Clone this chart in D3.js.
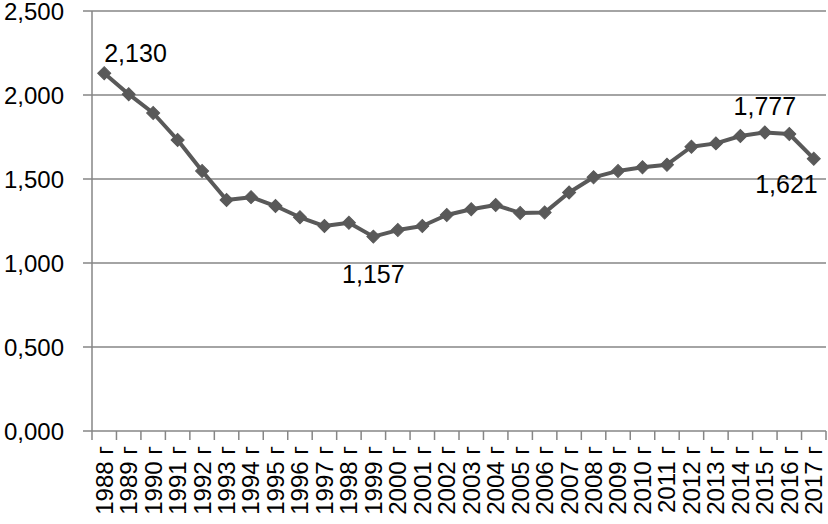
<!DOCTYPE html>
<html>
<head>
<meta charset="utf-8">
<script src="https://cdn.jsdelivr.net/npm/d3@7"></script>
<style>
  body { margin: 0; background: #fff; }
  text { font-family: "Liberation Sans", Arial, sans-serif; fill: #000; }
</style>
</head>
<body>
<script>
// data
var years = ["1988","1989","1990","1991","1992","1993","1994","1995","1996","1997",
             "1998","1999","2000","2001","2002","2003","2004","2005","2006","2007",
             "2008","2009","2010","2011","2012","2013","2014","2015","2016","2017"];
var values = [2.130, 2.005, 1.893, 1.732, 1.548, 1.375, 1.392, 1.339, 1.272, 1.220,
              1.240, 1.157, 1.196, 1.220, 1.286, 1.320, 1.345, 1.298, 1.300, 1.420,
              1.510, 1.548, 1.570, 1.585, 1.692, 1.712, 1.756, 1.777, 1.768, 1.621];
var yTicks = [0, 0.5, 1, 1.5, 2, 2.5];

// which points get a value label, and where it sits
var labels = [
  {i: 0,  dx: 0,  dy: -11, anchor: "start"},
  {i: 11, dx: 0,  dy: 46,  anchor: "middle"},
  {i: 27, dx: 0,  dy: -17, anchor: "middle"},
  {i: 29, dx: 4,  dy: 34,  anchor: "end"}
];

var width = 828, height = 524;
var margin = {top: 11, right: 2, bottom: 93, left: 92};

var locale = d3.formatLocale({decimal: ",", thousands: ".", grouping: [3], currency: ["", ""]});
var fmt = locale.format(".3f");

var svg = d3.select("body").append("svg")
    .attr("width", width)
    .attr("height", height);

var x = d3.scaleBand()
    .domain(years)
    .range([margin.left, width - margin.right]);

var y = d3.scaleLinear()
    .domain([0, 2.5])
    .range([height - margin.bottom, margin.top]);

var grey = "#868686";

// gridlines + left ticks
svg.append("g")
    .selectAll("line")
    .data(yTicks)
    .enter().append("line")
    .attr("x1", margin.left - 9)
    .attr("x2", width - margin.right)
    .attr("y1", function(d) { return y(d); })
    .attr("y2", function(d) { return y(d); })
    .attr("stroke", grey)
    .attr("stroke-width", 1.5);

// y tick labels
svg.append("g")
    .selectAll("text")
    .data(yTicks)
    .enter().append("text")
    .attr("x", 64)
    .attr("y", function(d) { return y(d); })
    .attr("dy", "0.36em")
    .attr("text-anchor", "end")
    .style("font-size", "24px")
    .text(function(d) { return fmt(d); });

// vertical axis line
svg.append("line")
    .attr("x1", margin.left).attr("x2", margin.left)
    .attr("y1", y(2.5)).attr("y2", y(0))
    .attr("stroke", grey).attr("stroke-width", 1.5);

// x ticks at band edges
var edges = years.map(function(d) { return x(d); }).concat([x(years[years.length - 1]) + x.bandwidth()]);
svg.append("g")
    .selectAll("line")
    .data(edges)
    .enter().append("line")
    .attr("x1", function(d) { return d; })
    .attr("x2", function(d) { return d; })
    .attr("y1", y(0))
    .attr("y2", y(0) + 9)
    .attr("stroke", grey)
    .attr("stroke-width", 1.5);

// x labels, rotated
svg.append("g")
    .selectAll("text")
    .data(years)
    .enter().append("text")
    .attr("transform", function(d) {
        return "translate(" + (x(d) + x.bandwidth() / 2) + "," + 446 + ") rotate(-90)";
    })
    .attr("dy", "0.35em")
    .attr("text-anchor", "end")
    .style("font-size", "24px")
    .text(function(d) { return d + " г"; });

// line
var cx = function(d, i) { return x(years[i]) + x.bandwidth() / 2; };
var line = d3.line()
    .x(cx)
    .y(function(d) { return y(d); });

svg.append("path")
    .datum(values)
    .attr("d", line)
    .attr("fill", "none")
    .attr("stroke", "#595959")
    .attr("stroke-width", 4)
    .attr("stroke-linejoin", "round");

// diamond markers
var diamond = d3.symbol().type(d3.symbolSquare).size(85);
svg.append("g")
    .selectAll("path")
    .data(values)
    .enter().append("path")
    .attr("d", diamond)
    .attr("transform", function(d, i) {
        return "translate(" + cx(d, i) + "," + y(d) + ") rotate(45)";
    })
    .attr("fill", "#595959")
    .attr("stroke", "#595959")
    .attr("stroke-width", 1);

// value labels
svg.append("g")
    .selectAll("text")
    .data(labels)
    .enter().append("text")
    .attr("x", function(d) { return cx(values[d.i], d.i) + d.dx; })
    .attr("y", function(d) { return y(values[d.i]) + d.dy; })
    .attr("text-anchor", function(d) { return d.anchor; })
    .style("font-size", "25px")
    .text(function(d) { return fmt(values[d.i]); });
</script>
</body>
</html>
